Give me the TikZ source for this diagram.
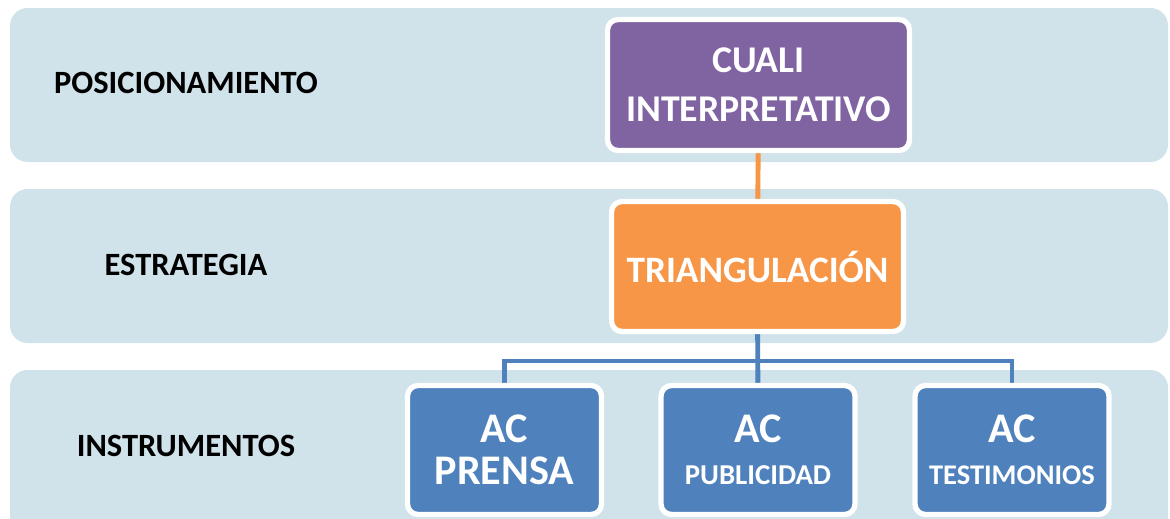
\documentclass[tikz,border=0pt]{standalone}
\usepackage{fontspec}
\setmainfont{Carlito}
\usetikzlibrary{backgrounds}
\definecolor{band}{HTML}{D0E2EA}
\definecolor{pu}{HTML}{8064A2}
\definecolor{or}{HTML}{F79646}
\definecolor{bl}{HTML}{4F81BD}

\begin{document}
\begin{tikzpicture}[x=0.02cm,y=-0.02cm]
  \tikzstyle{every node}=[font=\bfseries]
  \tikzstyle{lvl}=[font=\bfseries\fontsize{18.5}{20}\selectfont]
  \tikzstyle{box}=[draw=white,line width=3pt,rounded corners=6pt,text=white,align=center,inner sep=0pt]
  \tikzstyle{acbox}=[box,fill=bl,minimum width=3.88cm,minimum height=2.58cm,font=\bfseries\fontsize{24}{24}\selectfont]
  \tikzstyle{conn}=[line width=2.8pt]
  \useasboundingbox (0,0) rectangle (1170,518);
  \clip (0,0) rectangle (1170,518);
  % row titles
  \node[lvl] (posic) at (186,83) {POSICIONAMIENTO};
  \node[lvl] (estr) at (186,265) {ESTRATEGIA};
  \node[lvl] (instr) at (186,446) {INSTRUMENTOS};
  % boxes
  \node[box,fill=pu,minimum width=6.04cm,minimum height=2.62cm,font=\bfseries\fontsize{21.5}{28}\selectfont] (cuali) at (758.5,85) {CUALI\\INTERPRETATIVO};
  \node[box,fill=or,minimum width=5.84cm,minimum height=2.6cm,font=\bfseries\fontsize{21.2}{24}\selectfont] (tri) at (757.5,266.5) {TRIANGULACIÓN};
  \node[acbox] (prensa) at (504.5,450) {AC\\PRENSA};
  \node[acbox] (publi) at (758,450) {AC\\{\fontsize{16.4}{19}\selectfont PUBLICIDAD}};
  \node[acbox] (testim) at (1012,450) {AC\\{\fontsize{16.2}{19}\selectfont TESTIMONIOS}};
  \coordinate (bar) at (758,361);
  \begin{pgfonlayer}{background}
    \fill[band,rounded corners=10pt] (10,8) rectangle (1168,162);
    \fill[band,rounded corners=10pt] (10,189) rectangle (1168,343);
    \fill[band,rounded corners=10pt] (10,370) rectangle (1168,540);
    \draw[or,conn] (cuali) -- (tri);
    \draw[bl,conn] (tri) -- (publi);
    \draw[bl,conn] (prensa.north) |- (bar -| testim.north) -- (testim.north);
  \end{pgfonlayer}
\end{tikzpicture}
\end{document}
